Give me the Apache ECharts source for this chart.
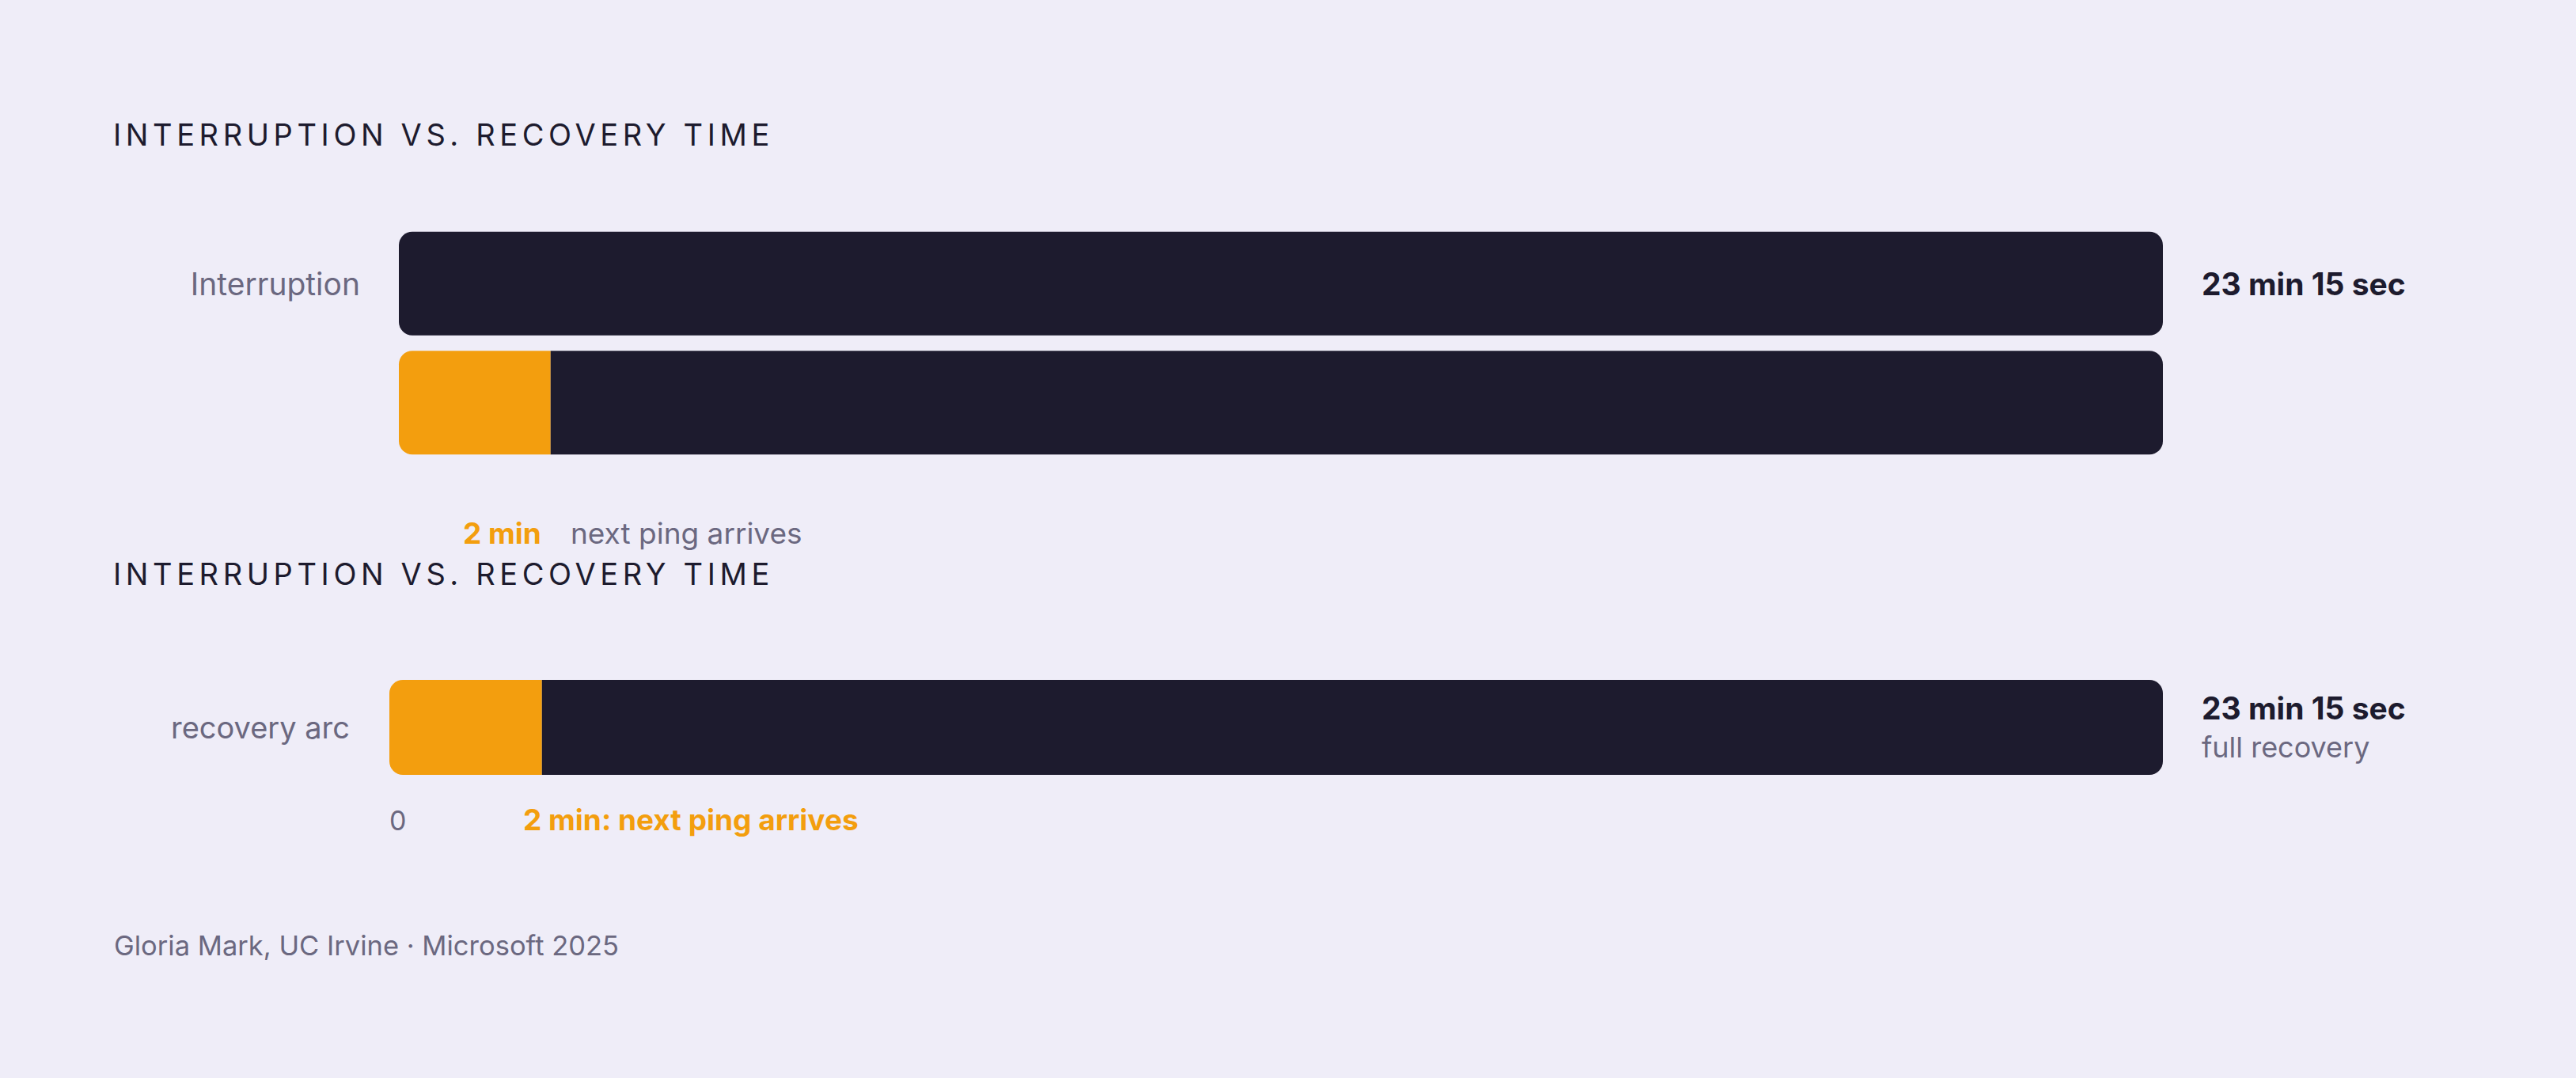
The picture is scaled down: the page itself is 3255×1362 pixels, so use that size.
<!DOCTYPE html>
<html>
<head>
<meta charset="utf-8">
<script src="https://cdn.jsdelivr.net/npm/echarts@6/dist/echarts.min.js"></script>
<style>
  html, body { margin: 0; padding: 0; background: #efedf8; }
  #chart { width: 3255px; height: 1362px; }
</style>
</head>
<body>
<div id="chart"></div>
<script>
// ---- data ----
const titleText = 'INTERRUPTION VS. RECOVERY TIME';
const topCategories = ['Interruption', ''];
const bottomCategories = ['recovery arc'];
const recoveryMinutes = 23.25;          // 23 min 15 sec
const pingMinutes = 2;                  // next ping arrives
const topPing = ['-', pingMinutes];
const topRest = [recoveryMinutes, recoveryMinutes - pingMinutes];
const bottomPing = [pingMinutes];
const bottomRest = [recoveryMinutes - pingMinutes];
const totalLabel = '23 min 15 sec';
const totalSubLabel = 'full recovery';
const pingLabelBold = '2 min';
const pingLabelText = 'next ping arrives';
const pingAxisNote = '2 min: next ping arrives';
const zeroTick = ['0'];
const sourceText = 'Gloria Mark, UC Irvine \u00b7 Microsoft 2025';

// ---- styles ----
const BG = '#efedf8';
const DARK = '#1d1b2e';
const ORANGE = '#f39e0e';
const GRAY = '#6b6880';
const FONT = 'Inter, "Noto Sans", sans-serif';
const R = 17;
const TITLE_TRACKING = '5.6px';

const chart = echarts.init(document.getElementById('chart'), null, { renderer: 'svg' });

function txt(text, x, y, size, weight, color) {
  return {
    type: 'text', x: x, y: y, silent: true,
    style: { text: text, fontSize: size, fontWeight: weight, fontFamily: FONT, fill: color, textVerticalAlign: 'middle', textAlign: 'left' }
  };
}

const option = {
  backgroundColor: BG,
  animation: false,
  grid: [
    { left: 504, right: 522, top: 283, height: 301, outerBoundsMode: 'none' },
    { left: 492, right: 522, top: 849, height: 140, outerBoundsMode: 'none' }
  ],
  xAxis: [
    { gridIndex: 0, type: 'value', min: 0, max: recoveryMinutes, show: false },
    {
      gridIndex: 1, type: 'value', min: 0, max: recoveryMinutes,
      axisLine: { show: false }, axisTick: { show: false }, splitLine: { show: false },
      axisLabel: {
        show: true, customValues: [0], formatter: function () { return zeroTick[0]; },
        color: GRAY, fontSize: 34, fontFamily: FONT, margin: 30, align: 'left'
      }
    }
  ],
  yAxis: [
    {
      gridIndex: 0, type: 'category', data: topCategories, inverse: true,
      axisLine: { show: false }, axisTick: { show: false }, splitLine: { show: false },
      axisLabel: { color: GRAY, fontSize: 39, fontFamily: FONT, margin: 49 }
    },
    {
      gridIndex: 1, type: 'category', data: bottomCategories, inverse: true,
      axisLine: { show: false }, axisTick: { show: false }, splitLine: { show: false },
      axisLabel: { color: GRAY, fontSize: 38, fontFamily: FONT, margin: 50 }
    }
  ],
  series: [
    {
      type: 'bar', xAxisIndex: 0, yAxisIndex: 0, stack: 'top', barWidth: 131,
      data: topPing.map(v => ({ value: v, itemStyle: { color: ORANGE, borderRadius: [R, 0, 0, R] } }))
    },
    {
      type: 'bar', xAxisIndex: 0, yAxisIndex: 0, stack: 'top', barWidth: 131,
      data: topRest.map((v, i) => ({
        value: v,
        itemStyle: { color: DARK, borderRadius: i === 0 ? R : [0, R, R, 0] },
        label: { show: i === 0 }
      })),
      label: {
        position: 'right', distance: 49, formatter: totalLabel,
        color: DARK, fontSize: 39, fontWeight: 700, fontFamily: FONT
      }
    },
    {
      type: 'bar', xAxisIndex: 1, yAxisIndex: 1, stack: 'bottom', barWidth: 120,
      data: bottomPing,
      itemStyle: { color: ORANGE, borderRadius: [R, 0, 0, R] }
    },
    {
      type: 'bar', xAxisIndex: 1, yAxisIndex: 1, stack: 'bottom', barWidth: 120,
      data: bottomRest,
      itemStyle: { color: DARK, borderRadius: [0, R, R, 0] },
      label: {
        show: true, position: 'right', distance: 49,
        formatter: '{a|' + totalLabel + '}\n{b|' + totalSubLabel + '}',
        rich: {
          a: { color: DARK, fontSize: 39, fontWeight: 700, fontFamily: FONT, lineHeight: 50 },
          b: { color: GRAY, fontSize: 36, fontWeight: 400, fontFamily: FONT, lineHeight: 50 }
        }
      }
    }
  ],
  graphic: [
    txt(titleText, 143, 170, 38, 400, DARK),
    txt(pingLabelBold, 585, 673, 37, 700, ORANGE),
    txt(pingLabelText, 721, 673, 37, 400, GRAY),
    txt(titleText, 143, 725, 38, 400, DARK),
    txt(pingAxisNote, 661, 1035, 37, 700, ORANGE),
    txt(sourceText, 144, 1194, 34.5, 400, GRAY)
  ]
};

chart.setOption(option);

function trackTitles() {
  document.querySelectorAll('#chart svg text').forEach(function (el) {
    if (el.textContent === titleText) {
      el.setAttribute('letter-spacing', TITLE_TRACKING);
      el.style.letterSpacing = TITLE_TRACKING;
    }
  });
}
trackTitles();
chart.on('finished', trackTitles);
setTimeout(trackTitles, 0);
</script>
</body>
</html>
